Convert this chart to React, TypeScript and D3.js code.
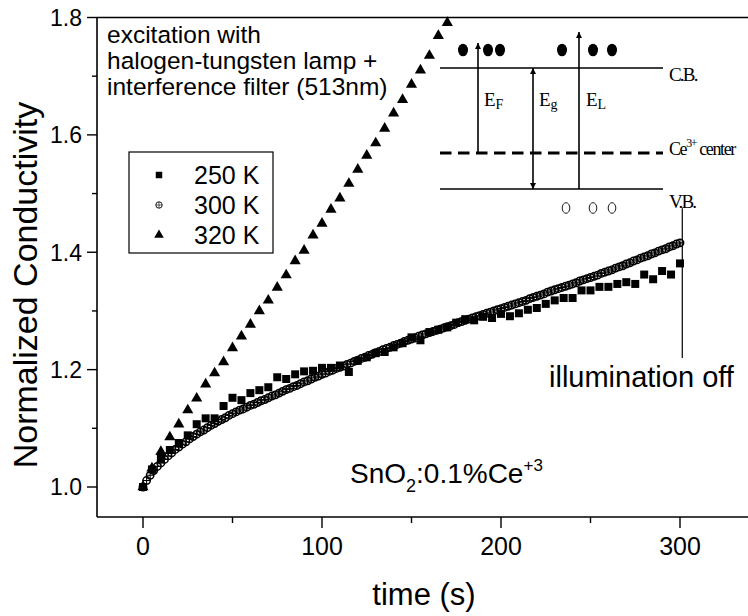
import React from 'react';
import * as d3 from 'd3';

// ---- data ----
const xTicks = [0, 100, 200, 300];
const xMinorTicks = [50, 150, 250];
const yTicks = [1.0, 1.2, 1.4, 1.6, 1.8];
const yMinorTicks = [1.1, 1.3, 1.5, 1.7];

const legendLabels = ['250 K', '300 K', '320 K'];

// 250 K, one point every 5 s
const step250 = 5;
const values250 = [
  1.000, 1.030, 1.048, 1.063, 1.075, 1.088, 1.107, 1.117, 1.117, 1.138,
  1.152, 1.148, 1.160, 1.165, 1.170, 1.187, 1.184, 1.192, 1.197, 1.198,
  1.203, 1.203, 1.207, 1.196, 1.215, 1.221, 1.228, 1.230, 1.238, 1.245,
  1.255, 1.250, 1.264, 1.268, 1.272, 1.280, 1.286, 1.284, 1.290, 1.288,
  1.295, 1.291, 1.296, 1.302, 1.305, 1.312, 1.318, 1.322, 1.322, 1.335,
  1.335, 1.341, 1.341, 1.346, 1.349, 1.346, 1.362, 1.354, 1.368, 1.362,
  1.381,
];

// 300 K, one point every 2 s
const step300 = 2;
const values300 = [
  1.000, 1.011, 1.020, 1.028, 1.035, 1.041, 1.047, 1.053, 1.058, 1.064,
  1.068, 1.073, 1.077, 1.082, 1.086, 1.090, 1.094, 1.097, 1.101, 1.105,
  1.108, 1.112, 1.115, 1.118, 1.122, 1.125, 1.128, 1.131, 1.133, 1.136,
  1.139, 1.141, 1.144, 1.147, 1.149, 1.152, 1.155, 1.157, 1.160, 1.163,
  1.166, 1.168, 1.171, 1.173, 1.176, 1.179, 1.181, 1.184, 1.187, 1.189,
  1.192, 1.194, 1.197, 1.199, 1.202, 1.204, 1.206, 1.209, 1.211, 1.214,
  1.216, 1.219, 1.221, 1.224, 1.226, 1.229, 1.231, 1.234, 1.236, 1.238,
  1.241, 1.243, 1.245, 1.248, 1.250, 1.252, 1.254, 1.257, 1.259, 1.261,
  1.263, 1.265, 1.267, 1.269, 1.271, 1.273, 1.275, 1.277, 1.280, 1.282,
  1.284, 1.286, 1.288, 1.290, 1.292, 1.294, 1.296, 1.298, 1.300, 1.302,
  1.304, 1.306, 1.308, 1.310, 1.312, 1.314, 1.316, 1.318, 1.321, 1.323,
  1.325, 1.327, 1.329, 1.332, 1.334, 1.336, 1.338, 1.340, 1.342, 1.344,
  1.346, 1.348, 1.351, 1.353, 1.355, 1.357, 1.359, 1.361, 1.364, 1.366,
  1.368, 1.370, 1.373, 1.375, 1.377, 1.380, 1.382, 1.385, 1.387, 1.390,
  1.392, 1.394, 1.397, 1.399, 1.402, 1.404, 1.406, 1.409, 1.411, 1.414,
  1.416,
];

// 320 K, one point every 5 s
const step320 = 5;
const values320 = [
  1.000, 1.032, 1.060, 1.085, 1.107, 1.131, 1.151, 1.175, 1.194, 1.213,
  1.237, 1.257, 1.277, 1.300, 1.318, 1.340, 1.361, 1.385, 1.403, 1.429,
  1.449, 1.473, 1.492, 1.517, 1.541, 1.565, 1.586, 1.611, 1.637, 1.660,
  1.686, 1.710, 1.735, 1.769, 1.791,
];

const illuminationOffTime = 301;
const illuminationLine = [1.475, 1.22];

const SANS = '"Liberation Sans", Arial, Helvetica, sans-serif';
const SERIF = '"Liberation Serif", "Times New Roman", serif';

export default function App() {
  const W = 748;
  const H = 616;
  const x = d3.scaleLinear().domain([0, 300]).range([143, 680]);
  const y = d3.scaleLinear().domain([1.0, 1.8]).range([487, 17.5]);
  const left = 97;
  const right = 748;
  const top = 17.5;
  const bottom = 517;

  const tri = d3.symbol(d3.symbolTriangle, 54)() as string;
  const sq = d3.symbol(d3.symbolSquare, 64)() as string;
  const triL = d3.symbol(d3.symbolTriangle, 40)() as string;
  const sqL = d3.symbol(d3.symbolSquare, 42)() as string;

  const circleMarker = (cx: number, cy: number, r: number, key: any, sw = 1.0) => (
    <g key={key} transform={`translate(${cx},${cy})`}>
      <circle r={r} fill="none" stroke="#000" strokeWidth={sw} />
      <line x1={-r} x2={r} y1={0} y2={0} stroke="#000" strokeWidth={sw * 0.7} />
      <line x1={0} x2={0} y1={-r} y2={r} stroke="#000" strokeWidth={sw * 0.7} />
    </g>
  );

  const axisStroke = 1.6;

  // energy diagram geometry
  const dL = 440, dR = 663;
  const cbY = 68, ceY = 153, vbY = 189;

  return (
    <svg
      width={W}
      height={H}
      style={{ position: 'absolute', left: 0, top: 0, background: '#fff' }}
      fontFamily={SANS}
    >
      <defs>
        <marker id="ah" viewBox="0 0 10 10" refX="10" refY="5" markerWidth="6" markerHeight="7" markerUnits="userSpaceOnUse" orient="auto-start-reverse">
          <path d="M0,0 L10,5 L0,10 Z" fill="#000" />
        </marker>
      </defs>
      <rect x={0} y={0} width={W} height={H} fill="#fff" />

      {/* axes frame */}
      <line x1={left} x2={left} y1={top} y2={bottom} stroke="#000" strokeWidth={axisStroke} />
      <line x1={left} x2={right} y1={bottom} y2={bottom} stroke="#000" strokeWidth={axisStroke} />
      <line x1={left} x2={right} y1={top} y2={top} stroke="#000" strokeWidth={axisStroke} />

      {/* y ticks */}
      {yTicks.map((t) => (
        <g key={'yt' + t}>
          <line x1={left - 10} x2={left} y1={y(t)} y2={y(t)} stroke="#000" strokeWidth={1.4} />
          <text x={82} y={y(t)} dy="0.36em" textAnchor="end" fontSize={23}>
            {t.toFixed(1)}
          </text>
        </g>
      ))}
      {yMinorTicks.map((t) => (
        <line key={'ym' + t} x1={left - 5} x2={left} y1={y(t)} y2={y(t)} stroke="#000" strokeWidth={1.4} />
      ))}

      {/* x ticks */}
      {xTicks.map((t) => (
        <g key={'xt' + t}>
          <line x1={x(t)} x2={x(t)} y1={bottom} y2={bottom + 11} stroke="#000" strokeWidth={1.4} />
          <text x={x(t)} y={555} textAnchor="middle" fontSize={25}>
            {t}
          </text>
        </g>
      ))}
      {xMinorTicks.map((t) => (
        <line key={'xm' + t} x1={x(t)} x2={x(t)} y1={bottom} y2={bottom + 6} stroke="#000" strokeWidth={1.4} />
      ))}

      {/* axis titles */}
      <text x={424} y={605} textAnchor="middle" fontSize={31}>
        time (s)
      </text>
      <text transform="translate(36.5,285) rotate(-90)" textAnchor="middle" fontSize={34}>
        Normalized Conductivity
      </text>

      {/* 250 K squares */}
      {values250.map((v, i) => (
        <path key={'s' + i} d={sq} transform={`translate(${x(i * step250)},${y(v)})`} fill="#000" />
      ))}
      {/* 300 K circles */}
      {values300.map((v, i) => circleMarker(x(i * step300), y(v), 3.7, 'c' + i, 1.5))}
      {/* 320 K triangles */}
      {values320.map((v, i) => (
        <path key={'t' + i} d={tri} transform={`translate(${x(i * step320)},${y(v)})`} fill="#000" />
      ))}

      {/* illumination off */}
      <line
        x1={x(illuminationOffTime) + 0.5}
        x2={x(illuminationOffTime) + 0.5}
        y1={y(illuminationLine[0])}
        y2={y(illuminationLine[1])}
        stroke="#000"
        strokeWidth={1.2}
      />
      <text x={549} y={387} fontSize={29}>
        illumination off
      </text>

      {/* annotation */}
      <text x={107} fontSize={24.5}>
        <tspan x={107} y={43}>excitation with</tspan>
        <tspan x={107} y={69}>halogen-tungsten lamp +</tspan>
        <tspan x={107} y={95}>interference filter (513nm)</tspan>
      </text>

      {/* sample label */}
      <text x={350} y={483} fontSize={28}>
        SnO
        <tspan fontSize={18} dy={9}>2</tspan>
        <tspan dy={-9}>:0.1%Ce</tspan>
        <tspan fontSize={17} dy={-12}>+3</tspan>
      </text>

      {/* legend */}
      <rect x={129} y={152} width={144} height={101} fill="#fff" stroke="#000" strokeWidth={1.2} />
      {legendLabels.map((lab, i) => {
        const cy = 175 + i * 30;
        return (
          <g key={'lg' + i}>
            {i === 0 && <path d={sqL} transform={`translate(159,${cy})`} fill="#000" />}
            {i === 1 && circleMarker(159, cy, 3.2, 'lc', 0.9)}
            {i === 2 && <path d={triL} transform={`translate(159,${cy})`} fill="#000" />}
            <text x={194} y={cy + 9} fontSize={25}>
              {lab}
            </text>
          </g>
        );
      })}

      {/* energy level diagram */}
      <g fontFamily={SERIF}>
        <line x1={dL} x2={dR} y1={cbY} y2={cbY} stroke="#000" strokeWidth={1.6} />
        <line x1={dL} x2={dR} y1={vbY} y2={vbY} stroke="#000" strokeWidth={1.6} />
        <line x1={dL} x2={dR} y1={ceY} y2={ceY} stroke="#000" strokeWidth={3} strokeDasharray="11.5 6.5" />
        {/* arrows */}
        <line x1={478} x2={478} y1={ceY} y2={43} stroke="#000" strokeWidth={1.6} markerEnd="url(#ah)" />
        <line x1={533} x2={533} y1={cbY} y2={vbY} stroke="#000" strokeWidth={1.6} markerStart="url(#ah)" markerEnd="url(#ah)" />
        <line x1={579} x2={579} y1={vbY} y2={32} stroke="#000" strokeWidth={1.6} markerEnd="url(#ah)" />
        {/* electrons */}
        {[463, 488, 500, 562, 593, 612].map((cx) => (
          <ellipse key={'e' + cx} cx={cx} cy={50} rx={5} ry={6.3} fill="#000" />
        ))}
        {/* holes */}
        {[566, 593, 612].map((cx) => (
          <ellipse key={'h' + cx} cx={cx} cy={208} rx={3.8} ry={5.3} fill="none" stroke="#000" strokeWidth={0.9} />
        ))}
        {/* labels */}
        <text x={669} y={81} fontSize={19} letterSpacing={-1.8}>C.B.</text>
        <text x={669} y={155} fontSize={18} letterSpacing={-1.4}>
          Ce<tspan fontSize={12} dy={-8}>3+</tspan>
          <tspan dy={8}> center</tspan>
        </text>
        <text x={669} y={208} fontSize={19} letterSpacing={-1.8}>V.B.</text>
        <text x={484} y={106} fontSize={19}>
          E<tspan fontSize={14} dx={0} dy={3}>F</tspan>
        </text>
        <text x={539} y={106} fontSize={19}>
          E<tspan fontSize={14} dx={0} dy={3}>g</tspan>
        </text>
        <text x={586} y={106} fontSize={19}>
          E<tspan fontSize={14} dx={0} dy={3}>L</tspan>
        </text>
      </g>
    </svg>
  );
}
